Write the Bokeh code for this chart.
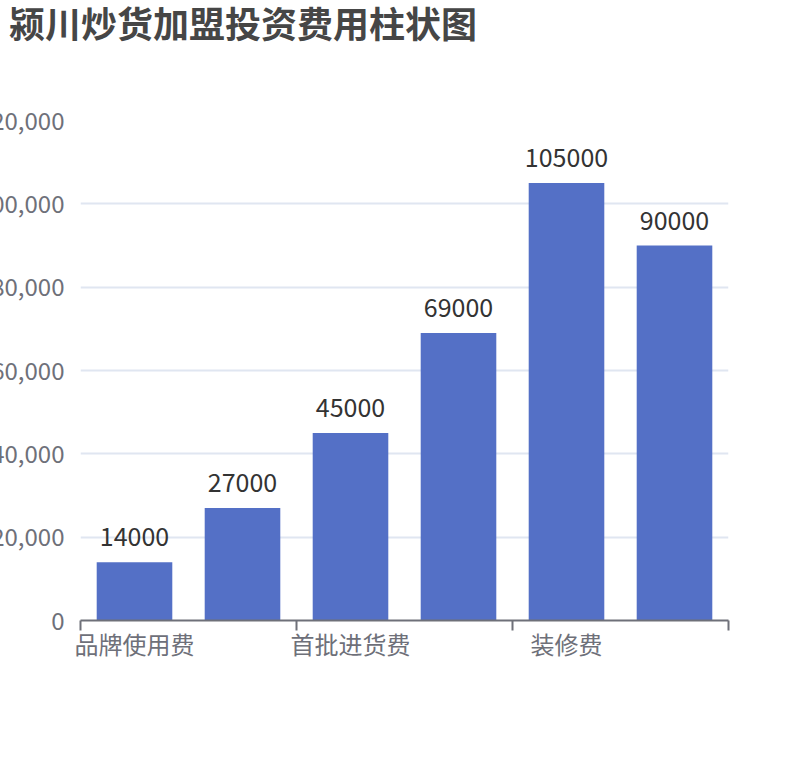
from bokeh.plotting import figure
from bokeh.models import ColumnDataSource, FixedTicker, NumeralTickFormatter, Div
from bokeh.layouts import column
from bokeh.core.properties import value
from bokeh.embed import file_html
from bokeh.resources import INLINE

title_text = "颍川炒货加盟投资费用柱状图"
categories = ["品牌使用费", "加盟保证金", "首批进货费", "设备费", "装修费", "其他费用"]
costs = [14000, 27000, 45000, 69000, 105000, 90000]
y_ticks = [0, 20000, 40000, 60000, 80000, 100000, 120000]

FONT = "Noto Sans CJK SC"
SHIFT = 26
HEAD = 60

xs = list(range(len(categories)))
src = ColumnDataSource(dict(x=xs, cost=costs, label=[str(c) for c in costs]))

title = Div(text=title_text, width=810 + SHIFT, height=HEAD,
            styles={"font-family": FONT, "font-size": "36px", "font-weight": "bold",
                    "color": "#464646", "line-height": "34px",
                    "padding-left": f"{SHIFT + 4}px", "box-sizing": "border-box",
                    "white-space": "nowrap"})

p = figure(width=810 + SHIFT, height=690, output_backend="svg", toolbar_location=None,
           x_range=(-0.5, len(categories) - 0.5), y_range=(0, 120000),
           min_border_left=0, min_border_right=82, min_border_top=50,
           min_border_bottom=140)

p.outline_line_color = None
p.background_fill_color = "white"
p.border_fill_color = "white"

p.vbar(x="x", top="cost", width=0.7, source=src, fill_color="#5470C6",
       line_color="#5470C6", line_width=0)
p.text(x="x", y="cost", text="label", source=src, text_align="center",
       text_baseline="bottom", y_offset=-16, text_font=value(FONT),
       text_font_size="25px", text_color="#333333")

# y axis
p.yaxis.ticker = FixedTicker(ticks=y_ticks)
p.yaxis.formatter = NumeralTickFormatter(format="0,0")
p.yaxis.axis_line_color = None
p.yaxis.major_tick_line_color = None
p.yaxis.minor_tick_line_color = None
p.yaxis.major_tick_out = 0
p.yaxis.major_tick_in = 0
p.yaxis.major_label_standoff = 16
p.yaxis.major_label_text_font = FONT
p.yaxis.major_label_text_font_size = "24px"
p.yaxis.major_label_text_color = "#6E7079"

p.ygrid.ticker = FixedTicker(ticks=y_ticks)
p.ygrid.grid_line_color = "#E0E6F1"
p.ygrid.grid_line_width = 2
p.xgrid.grid_line_color = None

# x axis
label_pos = xs[::2]
bounds = [x - 0.5 for x in xs[::2]] + [len(categories) - 0.5]
p.xaxis.ticker = FixedTicker(ticks=label_pos, minor_ticks=bounds)
p.xaxis.major_label_overrides = {x: categories[x] for x in label_pos}
p.xaxis.axis_line_color = "#6E7079"
p.xaxis.axis_line_width = 2
p.xaxis.major_tick_line_color = None
p.xaxis.major_tick_out = 0
p.xaxis.major_tick_in = 0
p.xaxis.minor_tick_line_color = "#6E7079"
p.xaxis.minor_tick_line_width = 2
p.xaxis.minor_tick_out = 10
p.xaxis.minor_tick_in = 0
p.xaxis.major_label_standoff = -5
p.xaxis.major_label_text_font = FONT
p.xaxis.major_label_text_font_size = "24px"
p.xaxis.major_label_text_color = "#6E7079"

layout = column(title, p, spacing=0)
layout.styles = {"margin-left": f"-{SHIFT}px"}

open("out.html", "w").write(file_html(layout, INLINE))
